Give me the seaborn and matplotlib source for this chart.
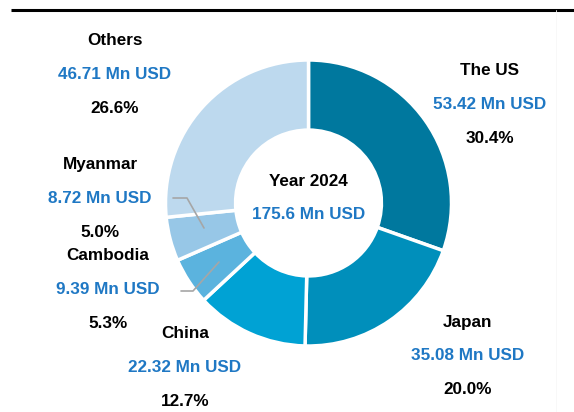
import matplotlib
matplotlib.use("Agg")
import matplotlib.pyplot as plt
import seaborn as sns

# data
countries = ["The US", "Japan", "China", "Cambodia", "Myanmar", "Others"]
values_mn = [53.42, 35.08, 22.32, 9.39, 8.72, 46.71]
total_label = "175.6 Mn USD"
year_label = "Year 2024"
slice_colors = ["#00789e", "#008fbb", "#00a2d4", "#5bb3de", "#97c7e7", "#bdd9ee"]

sns.set_theme(style="white")
plt.rcParams["font.family"] = ["Liberation Sans", "DejaVu Sans"]

blue = "#1f78c4"
fs = 12.3

fig = plt.figure(figsize=(5.74, 4.12), dpi=100)
ax = fig.add_axes([0, 0, 1, 1])

cx, cy, r = 308.5, 412 - 203, 143
ax.pie(values_mn, colors=slice_colors, startangle=90, counterclock=False,
       center=(cx, cy), radius=r,
       wedgeprops=dict(width=r * 0.49, edgecolor="white", linewidth=2.5))
ax.set_xlim(0, 574)
ax.set_ylim(0, 412)
ax.set_aspect("equal")
ax.axis("off")

total = sum(values_mn)
# label anchor (x, y of the top line) in pixel layout
label_pos = {
    "The US": (490, 70),
    "Japan": (468, 322),
    "China": (185, 333),
    "Cambodia": (108, 256),
    "Myanmar": (100, 164),
    "Others": (115, 40),
}
for name, v in zip(countries, values_mn):
    x, y = label_pos[name]
    ax.text(x, 412 - y, name, ha="center", va="center", fontsize=fs,
            fontweight="bold", color="black")
    ax.text(x, 412 - y - 34, f"{v:.2f} Mn USD", ha="center", va="center",
            fontsize=fs, fontweight="bold", color=blue)
    ax.text(x, 412 - y - 68, f"{v / total * 100:.1f}%", ha="center",
            va="center", fontsize=fs, fontweight="bold", color="black")

# leader lines for the small slices
ax.plot([173, 187, 204], [412 - 198, 412 - 198, 412 - 228], color="#a6a6a6", lw=1.2)
ax.plot([181, 193, 219], [412 - 291, 412 - 291, 412 - 262], color="#a6a6a6", lw=1.2)

ax.text(cx, 412 - 181, year_label, ha="center", va="center", fontsize=fs,
        fontweight="bold", color="black")
ax.text(cx, 412 - 214, total_label, ha="center", va="center", fontsize=fs,
        fontweight="bold", color=blue)

# frame lines
ax.plot([11, 574], [412 - 10, 412 - 10], color="black", lw=2.2, solid_capstyle="butt")
ax.plot([556, 556], [0, 412 - 10], color="#f7f7f7", lw=0.6)

fig.savefig("out.png", dpi=100)
